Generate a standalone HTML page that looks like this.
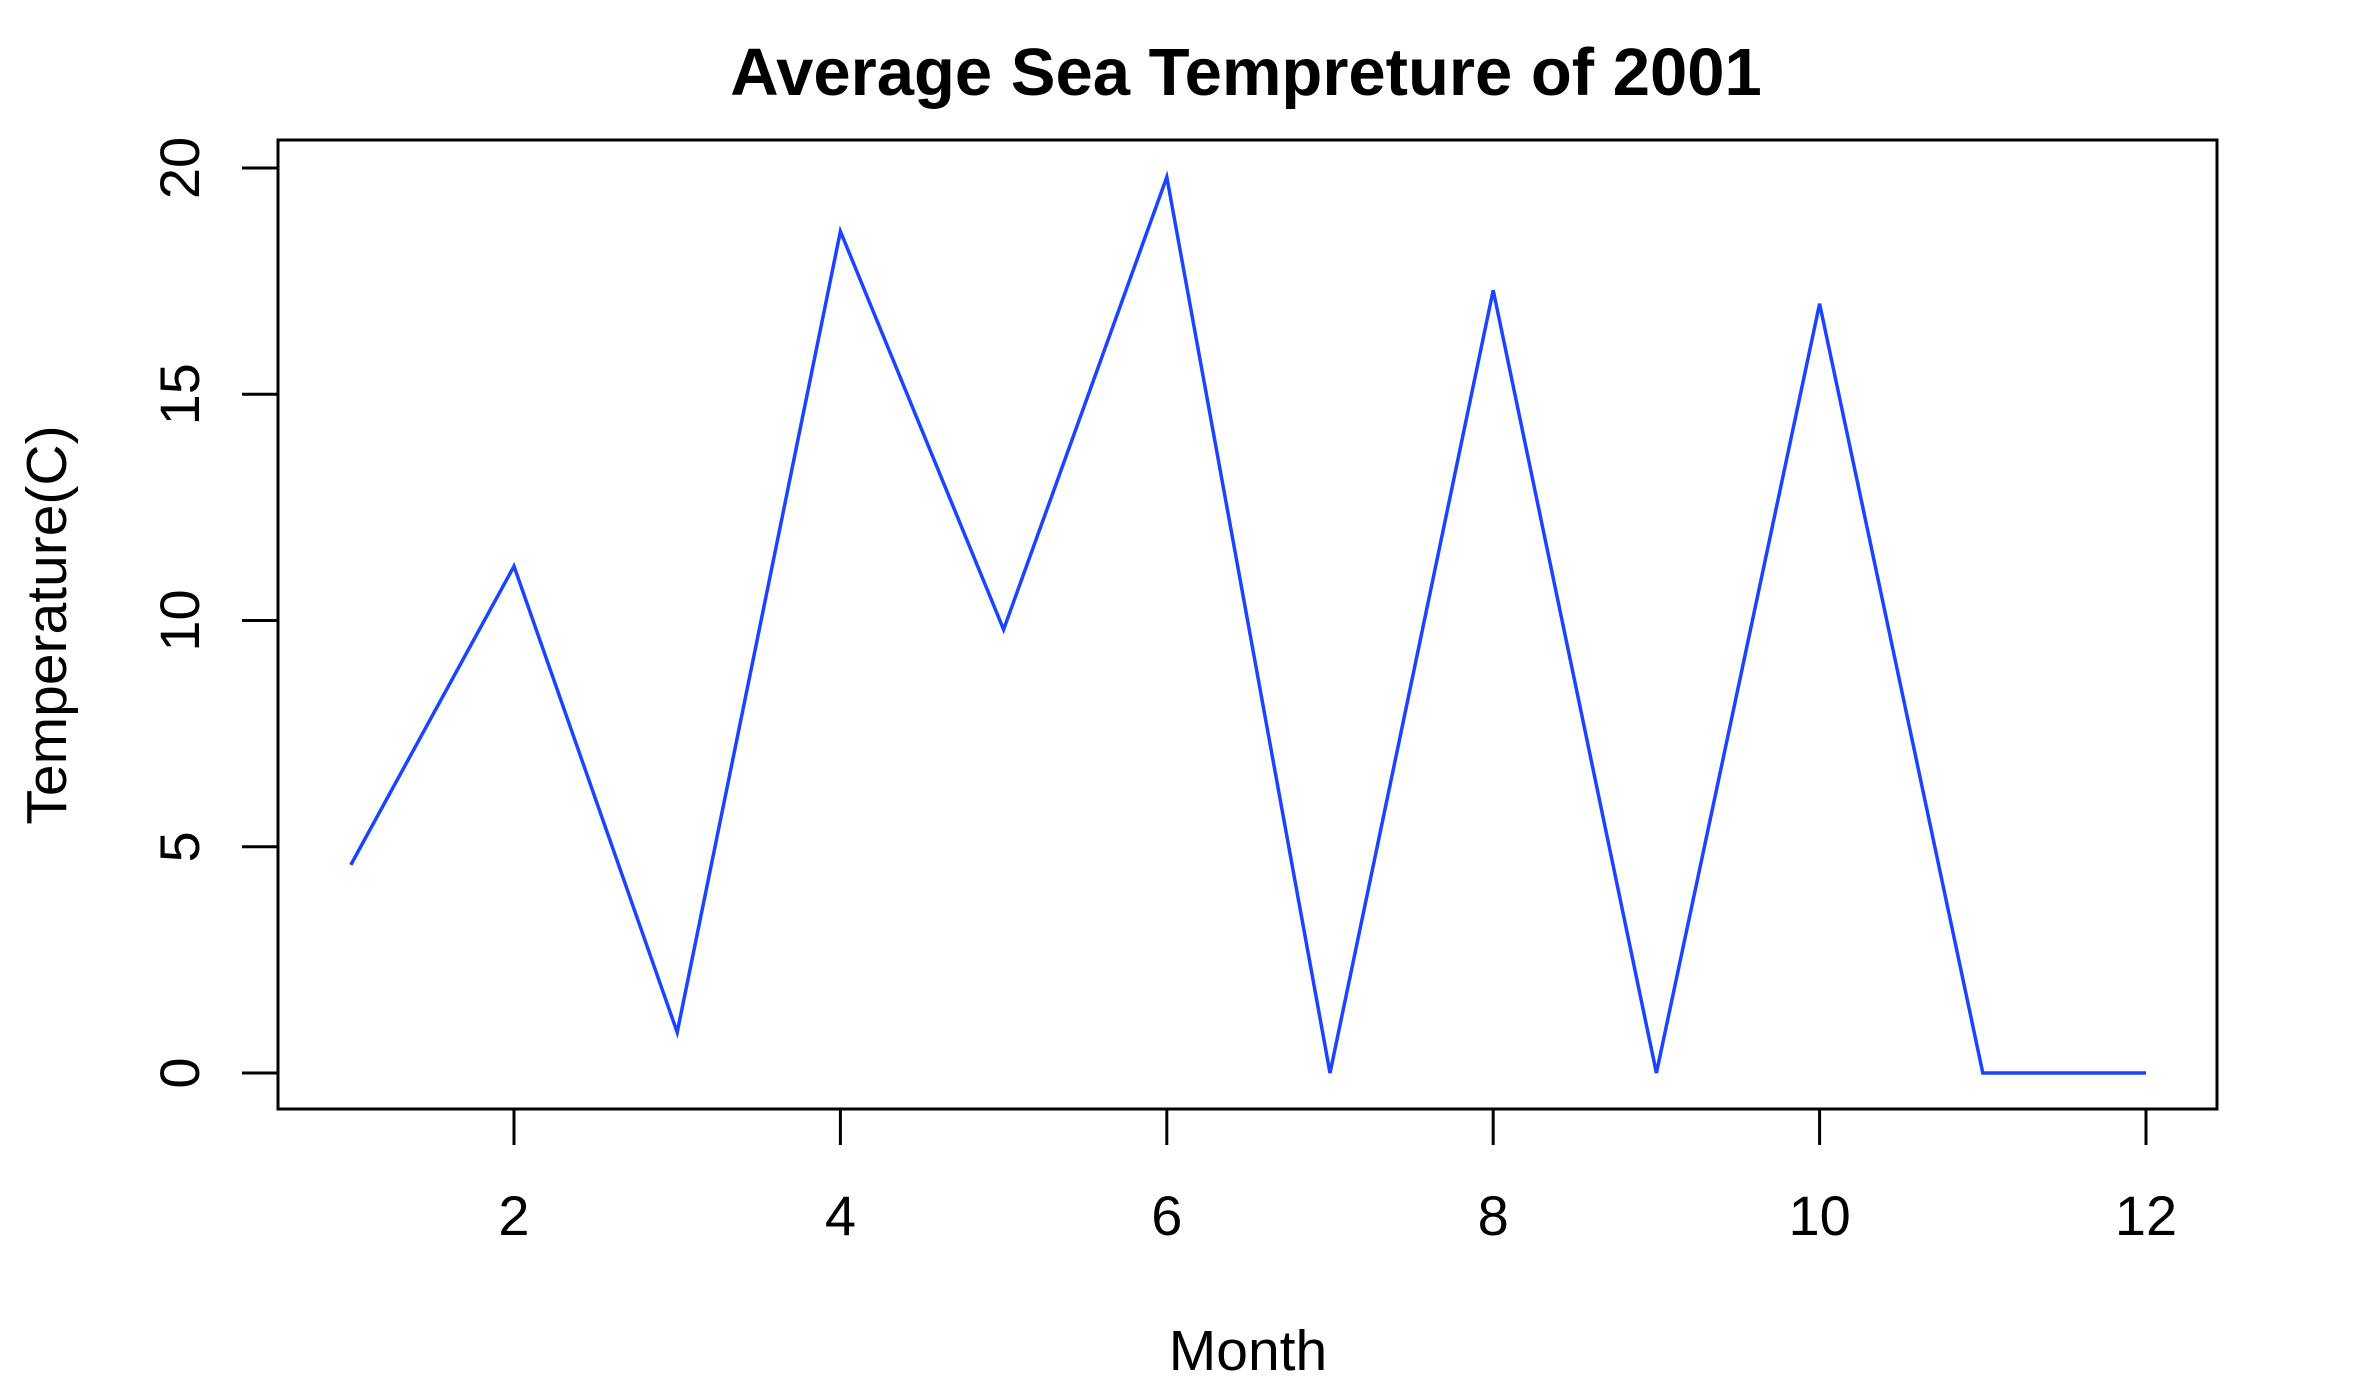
<!DOCTYPE html>
<html><head><meta charset="utf-8"><style>
html,body{margin:0;padding:0;background:#fff;}
svg{display:block;font-family:"Liberation Sans",Arial,sans-serif;}
</style></head><body>
<svg id="chart" width="2356" height="1400" viewBox="0 0 2356 1400">
<rect x="0" y="0" width="2356" height="1400" fill="#fff"/>
<text x="1246" y="95" text-anchor="middle" font-size="67" font-weight="bold">Average Sea Tempreture of 2001</text>
<rect x="278" y="140" width="1939" height="969" fill="none" stroke="#000" stroke-width="3"/>
<g id="xaxis"></g>
<g id="yaxis"></g>
<polyline id="series" fill="none" stroke="#1a44ff" stroke-width="3.5" stroke-linejoin="miter"/>
<text x="1248" y="1370" text-anchor="middle" font-size="57">Month</text>
<text transform="translate(66,625) rotate(-90)" text-anchor="middle" font-size="57">Temperature(C)</text>
</svg>
<script>
const months = [1,2,3,4,5,6,7,8,9,10,11,12];
const temps = [4.6,11.2,0.9,18.6,9.8,19.8,0,17.3,0,17.0,0,0];
const xTicks = [2,4,6,8,10,12];
const yTicks = [0,5,10,15,20];
function xs(m){return 514+(m-2)*163.2;}
function ys(v){return 1073-v*45.25;}
const NS="http://www.w3.org/2000/svg";
const line=document.getElementById('series');
line.setAttribute('points', months.map((m,i)=>xs(m)+','+ys(temps[i])).join(' '));
const xg=document.getElementById('xaxis');
xTicks.forEach(t=>{
  const l=document.createElementNS(NS,'line');
  l.setAttribute('x1',xs(t));l.setAttribute('x2',xs(t));l.setAttribute('y1',1109);l.setAttribute('y2',1145);
  l.setAttribute('stroke','#000');l.setAttribute('stroke-width','3');
  
  
  xg.appendChild(l);
  const tx=document.createElementNS(NS,'text');
  tx.setAttribute('x',xs(t));tx.setAttribute('y',1235);tx.setAttribute('text-anchor','middle');tx.setAttribute('font-size','56');
  tx.textContent=t;
  
  
  xg.appendChild(tx);
});
const yg=document.getElementById('yaxis');
yTicks.forEach(t=>{
  const l=document.createElementNS(NS,'line');
  l.setAttribute('x1',242);l.setAttribute('x2',278);l.setAttribute('y1',ys(t));l.setAttribute('y2',ys(t));
  l.setAttribute('stroke','#000');l.setAttribute('stroke-width','3');
  
  
  yg.appendChild(l);
  const tx=document.createElementNS(NS,'text');
  tx.setAttribute('transform','translate(199,'+ys(t)+') rotate(-90)');
  tx.setAttribute('text-anchor','middle');tx.setAttribute('font-size','56');
  tx.textContent=t;
  
  
  yg.appendChild(tx);
});
</script>
</body></html>
